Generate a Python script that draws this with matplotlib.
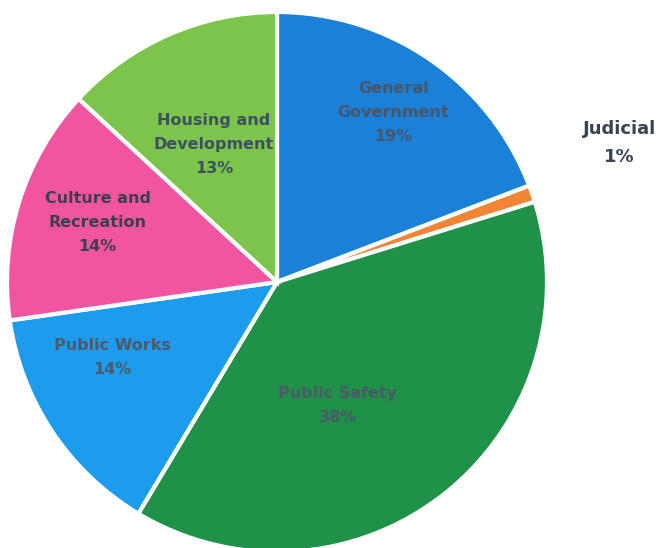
import numpy as np
import matplotlib.pyplot as plt

categories = ['General\nGovernment', 'Judicial', 'Public Safety', 'Public Works',
              'Culture and\nRecreation', 'Housing and\nDevelopment']
shares = [19, 1, 38, 14, 14, 13]
colors = ['#1b80d8', '#f28535', '#1f9148', '#1d9cee', '#f2559f', '#7cc44c']

# label placement per slice: radius factor, angle nudge (deg), font size
lab_r = [0.76, 1.37, 0.51, 0.67, 0.70, 0.56]
lab_da = [0, 3, -12, -9, -1, 1]
lab_fs = [11.5, 13, 11.5, 11.5, 11.5, 11.5]
lab_col = ['#4a5566', '#3b4350', '#4a5a66', '#4d5a6a', '#3e3e4e', '#3d5060']

fig = plt.figure(figsize=(6.56, 5.48), dpi=100)
ax = fig.add_axes([7 / 656, -4 / 548, 540 / 656, 540 / 548])

wedges, _ = ax.pie(shares, colors=colors, startangle=90, counterclock=False,
                   radius=1, wedgeprops=dict(edgecolor='white', linewidth=3))

total = sum(shares)
for w, name, val, r, da, fs, c in zip(wedges, categories, shares, lab_r, lab_da, lab_fs, lab_col):
    mid = np.deg2rad((w.theta1 + w.theta2) / 2 + da)
    txt = '%s\n%d%%' % (name, round(val / total * 100))
    ax.text(r * np.cos(mid), r * np.sin(mid), txt, ha='center', va='center',
            fontsize=fs, fontweight='bold', color=c, linespacing=1.75, clip_on=False)

ax.set_xlim(-1, 1)
ax.set_ylim(-1, 1)
ax.set_aspect('equal')
ax.axis('off')

fig.savefig('out.png', dpi=100)
